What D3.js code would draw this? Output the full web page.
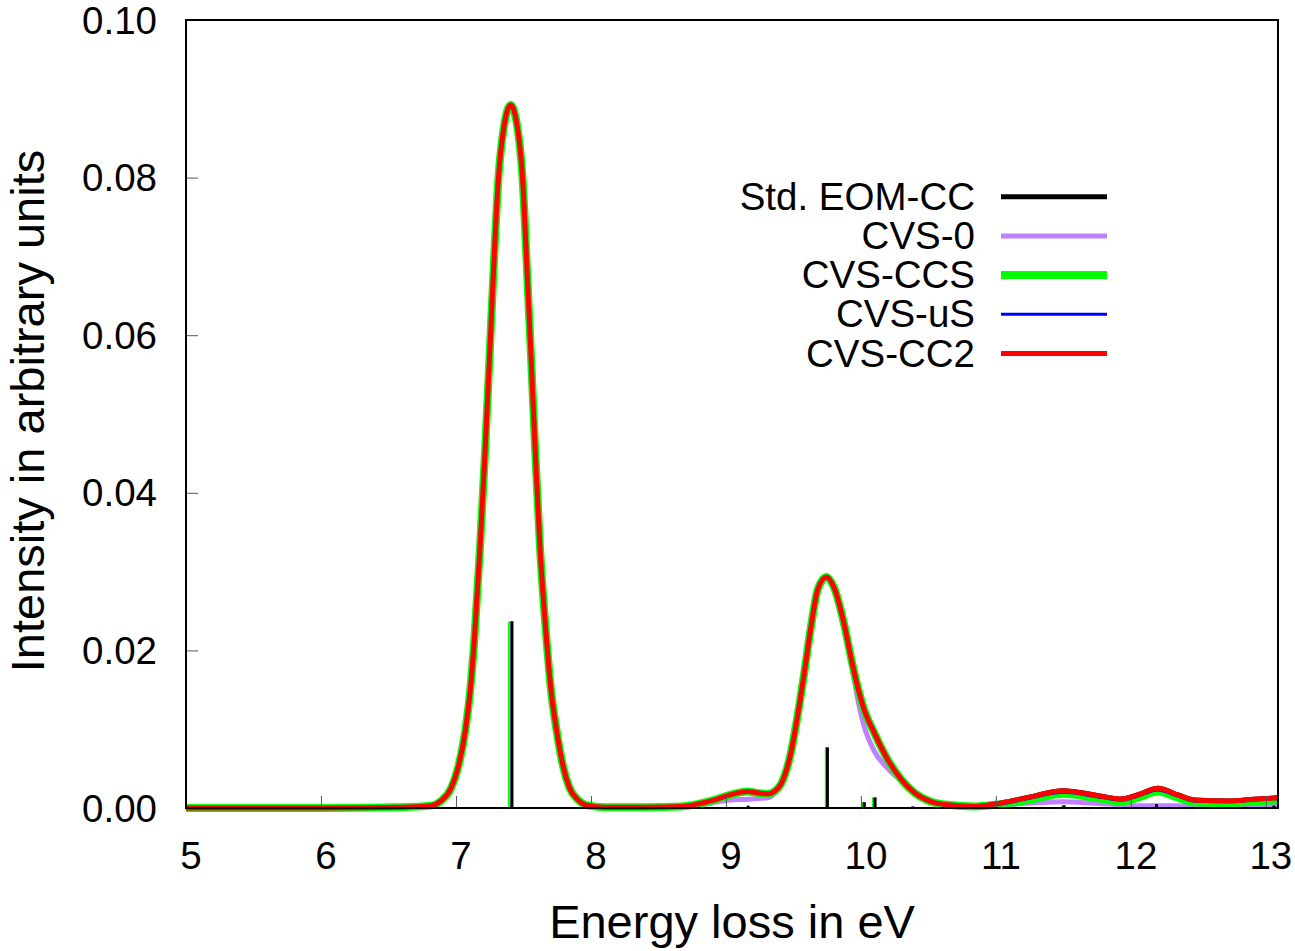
<!DOCTYPE html>
<html>
<head>
<meta charset="utf-8">
<script src="https://cdn.jsdelivr.net/npm/d3@7/dist/d3.min.js"></script>
<style>
  html, body { margin: 0; padding: 0; background: #fff; }
  svg { display: block; }
  text { font-family: "Liberation Sans", Arial, Helvetica, sans-serif; fill: #000; }
</style>
</head>
<body>
<svg id="chart" width="1295" height="951"></svg>
<script>
// ---------------- data ----------------
const energy = [
  5.00, 6.00, 6.60, 6.815, 6.889, 6.963, 7.017, 7.069, 7.106, 7.136,
  7.178, 7.215, 7.247, 7.279, 7.314, 7.355, 7.405, 7.455, 7.494, 7.526,
  7.558, 7.588, 7.622, 7.669, 7.704, 7.746, 7.795, 7.840, 7.900, 7.960,
  8.10, 8.40, 8.67, 8.79, 8.91, 9.037, 9.16, 9.24, 9.31, 9.358,
  9.41, 9.48, 9.53, 9.58, 9.63, 9.68, 9.745, 9.80, 9.88, 9.93,
  9.98, 10.02, 10.10, 10.20, 10.30, 10.40, 10.52, 10.64, 10.85, 10.99,
  11.24, 11.50, 11.73, 11.93, 12.05, 12.20, 12.35, 12.47, 12.72, 12.91,
  13.09
];

const stdEomCC = [
  0, 0, 0.0001, 0.0003, 0.0009, 0.0025, 0.0052, 0.0098, 0.0150, 0.0213,
  0.0330, 0.0450, 0.0566, 0.0684, 0.0798, 0.0864, 0.0892, 0.0864, 0.0798, 0.0684,
  0.0566, 0.0450, 0.0332, 0.0218, 0.0150, 0.0098, 0.0052, 0.0026, 0.0011, 0.0004,
  0.0001, 0.0001, 0.0002, 0.0005, 0.0010, 0.0017, 0.0021, 0.0019, 0.0018, 0.0021,
  0.0031, 0.0069, 0.0116, 0.0171, 0.0230, 0.0277, 0.0293, 0.0280, 0.0230, 0.0188,
  0.0151, 0.0127, 0.0095, 0.0061, 0.0036, 0.0019, 0.0008, 0.0004, 0.0002, 0.0005,
  0.00135, 0.0022, 0.00165, 0.00114, 0.00165, 0.0025, 0.00165, 0.00102, 0.00089, 0.0011,
  0.0013
];

const cvs0 = [
  0, 0, 0.0001, 0.0003, 0.0009, 0.0025, 0.0052, 0.0098, 0.0150, 0.0213,
  0.0330, 0.0450, 0.0566, 0.0684, 0.0798, 0.0864, 0.0892, 0.0864, 0.0798, 0.0684,
  0.0566, 0.0450, 0.0332, 0.0218, 0.0150, 0.0098, 0.0052, 0.0026, 0.0011, 0.0004,
  0.0001, 0.0001, 0.0002, 0.0003, 0.0007, 0.0010, 0.0011, 0.0012, 0.0013, 0.0018,
  0.0029, 0.0069, 0.0116, 0.0171, 0.0230, 0.0277, 0.0293, 0.0280, 0.0228, 0.0183,
  0.0135, 0.0106, 0.0072, 0.0050, 0.0034, 0.0018, 0.0007, 0.0003, 0.0001, 0.0003,
  0.0006, 0.0008, 0.0006, 0.0004, 0.0003, 0.0003, 0.0003, 0.0002, 0.0002, 0.0002,
  0.0002
];

const cvsCCS = [
  0, 0, 0.0001, 0.0003, 0.0009, 0.0025, 0.0052, 0.0098, 0.0150, 0.0213,
  0.0330, 0.0450, 0.0566, 0.0684, 0.0798, 0.0864, 0.0892, 0.0864, 0.0798, 0.0684,
  0.0566, 0.0450, 0.0332, 0.0218, 0.0150, 0.0098, 0.0052, 0.0026, 0.0011, 0.0004,
  0.0001, 0.0001, 0.0002, 0.0005, 0.0010, 0.0017, 0.0021, 0.0019, 0.0018, 0.0021,
  0.0031, 0.0069, 0.0116, 0.0171, 0.0230, 0.0277, 0.0293, 0.0280, 0.0230, 0.0188,
  0.0151, 0.0127, 0.0095, 0.0061, 0.0036, 0.0019, 0.0008, 0.0004, 0.0002, 0.0004,
  0.0010, 0.0018, 0.0013, 0.0008, 0.0013, 0.0021, 0.0013, 0.0007, 0.0006, 0.0008,
  0.0010
];

const cvsUS = [
  0, 0, 0.0001, 0.0003, 0.0009, 0.0025, 0.0052, 0.0098, 0.0150, 0.0213,
  0.0330, 0.0450, 0.0566, 0.0684, 0.0798, 0.0864, 0.0892, 0.0864, 0.0798, 0.0684,
  0.0566, 0.0450, 0.0332, 0.0218, 0.0150, 0.0098, 0.0052, 0.0026, 0.0011, 0.0004,
  0.0001, 0.0001, 0.0002, 0.0005, 0.0010, 0.0017, 0.0021, 0.0019, 0.0018, 0.0021,
  0.0031, 0.0069, 0.0116, 0.0171, 0.0230, 0.0277, 0.0293, 0.0280, 0.0230, 0.0188,
  0.0151, 0.0127, 0.0095, 0.0061, 0.0036, 0.0019, 0.0008, 0.0004, 0.0002, 0.0004,
  0.0012, 0.0020, 0.0015, 0.0010, 0.0015, 0.0023, 0.0015, 0.0009, 0.0008, 0.0010,
  0.0012
];

const cvsCC2 = [
  0, 0, 0.0001, 0.0003, 0.0009, 0.0025, 0.0052, 0.0098, 0.0150, 0.0213,
  0.0330, 0.0450, 0.0566, 0.0684, 0.0798, 0.0864, 0.0892, 0.0864, 0.0798, 0.0684,
  0.0566, 0.0450, 0.0332, 0.0218, 0.0150, 0.0098, 0.0052, 0.0026, 0.0011, 0.0004,
  0.0001, 0.0001, 0.0002, 0.0005, 0.0010, 0.0017, 0.0021, 0.0019, 0.0018, 0.0021,
  0.0031, 0.0069, 0.0116, 0.0171, 0.0230, 0.0277, 0.0293, 0.0280, 0.0230, 0.0188,
  0.0151, 0.0127, 0.0095, 0.0061, 0.0036, 0.0019, 0.0008, 0.0004, 0.0002, 0.0005,
  0.00135, 0.0022, 0.00165, 0.00114, 0.00165, 0.0025, 0.00165, 0.00102, 0.00089, 0.0011,
  0.0013
];

// stick spectra (excitation energies and strengths)
const stdStickE = [7.415, 9.165, 9.752, 10.025, 10.105, 10.385, 11.505, 12.19, 13.06];
const stdStickI = [0.0237, 0.0003, 0.0077, 0.00075, 0.00135, 0.0002, 0.00035, 0.0005, 0.0003];
const cvs0StickE = [7.402, 10.38, 13.045];
const cvs0StickI = [0.0237, 0.0002, 0.0003];
const ccsStickE = [7.392, 9.740, 10.012, 10.09, 11.49];
const ccsStickI = [0.0236, 0.0077, 0.00075, 0.00135, 0.0003];

const xTicks = [5, 6, 7, 8, 9, 10, 11, 12, 13];
const yTicks = [0, 0.02, 0.04, 0.06, 0.08, 0.10];

const seriesNames = ["Std. EOM-CC", "CVS-0", "CVS-CCS", "CVS-uS", "CVS-CC2"];
const seriesValues = [stdEomCC, cvs0, cvsCCS, cvsUS, cvsCC2];
const seriesColors = ["#000000", "#c080ff", "#00ff00", "#0000ff", "#ff0000"];
const seriesWidths = [5, 5, 8, 3, 5];

// ---------------- drawing ----------------
const svg = d3.select("#chart");
const pLeft = 186, pRight = 1278, pTop = 20, pBottom = 808;

const x = d3.scaleLinear().domain([5, 13.09]).range([pLeft, pRight]);
const y = d3.scaleLinear().domain([0, 0.10]).range([pBottom, pTop]);

svg.append("rect").attr("width", 1295).attr("height", 951).attr("fill", "#fff");

const line = d3.line()
  .x((d, i) => x(energy[i]))
  .y(d => y(d))
  .curve(d3.curveMonotoneX);

const curves = svg.append("g").attr("fill", "none");
seriesValues.forEach((vals, k) => {
  curves.append("path")
    .attr("d", line(vals))
    .attr("stroke", seriesColors[k])
    .attr("stroke-width", seriesWidths[k])
    .attr("stroke-linejoin", "round");
});

// sticks
function drawSticks(E, I, color, w) {
  svg.append("g").selectAll("line").data(E).join("line")
    .attr("x1", d => x(d)).attr("x2", d => x(d))
    .attr("y1", y(0)).attr("y2", (d, i) => y(I[i]))
    .attr("stroke", color).attr("stroke-width", w);
}
drawSticks(ccsStickE, ccsStickI, "#00ff00", 2);
drawSticks(cvs0StickE, cvs0StickI, "#c080ff", 2.5);
drawSticks(stdStickE, stdStickI, "#000000", 3);

// axes
const fontSize = 38.5;
const xAxis = d3.axisBottom(x).tickValues(xTicks).tickFormat(d3.format("d"))
  .tickSizeInner(-12).tickSizeOuter(0).tickPadding(34);
const gx = svg.append("g").attr("transform", `translate(0,${pBottom})`).call(xAxis);
gx.select(".domain").remove();
gx.selectAll(".tick line").attr("stroke", "#555").attr("stroke-width", 1);
gx.selectAll(".tick text")
  .attr("dx", 4.5)
  .style("font-size", fontSize + "px")
  .style("font-family", '"Liberation Sans", Arial, sans-serif')
  .attr("fill", "#000");

const yAxis = d3.axisLeft(y).tickValues(yTicks).tickFormat(d3.format(".2f"))
  .tickSizeInner(-12).tickSizeOuter(0).tickPadding(29);
const gy = svg.append("g").attr("transform", `translate(${pLeft},0)`).call(yAxis);
gy.select(".domain").remove();
gy.selectAll(".tick line").attr("stroke", "#555").attr("stroke-width", 1);
gy.selectAll(".tick text")
  .attr("dy", "0.34em")
  .style("font-size", fontSize + "px")
  .style("font-family", '"Liberation Sans", Arial, sans-serif')
  .attr("fill", "#000");

// border
svg.append("rect")
  .attr("x", pLeft).attr("y", pTop)
  .attr("width", pRight - pLeft).attr("height", pBottom - pTop)
  .attr("fill", "none").attr("stroke", "#000").attr("stroke-width", 2);

// axis titles
svg.append("text")
  .attr("x", (pLeft + pRight) / 2).attr("y", 938)
  .attr("text-anchor", "middle")
  .style("font-size", "47px")
  .text("Energy loss in eV");

svg.append("text")
  .attr("transform", `translate(44,${(pTop + pBottom) / 2 - 3}) rotate(-90)`)
  .attr("text-anchor", "middle")
  .style("font-size", "47px")
  .text("Intensity in arbitrary units");

// legend
const legend = svg.append("g");
seriesNames.forEach((name, k) => {
  const ly = 196.7 + k * 39.2;
  legend.append("text")
    .attr("x", 975).attr("y", ly).attr("dy", "0.34em")
    .attr("text-anchor", "end")
    .style("font-size", fontSize + "px")
    .text(name);
  legend.append("line")
    .attr("x1", 1001).attr("x2", 1107)
    .attr("y1", ly).attr("y2", ly)
    .attr("stroke", seriesColors[k])
    .attr("stroke-width", seriesWidths[k]);
});
</script>
</body>
</html>
